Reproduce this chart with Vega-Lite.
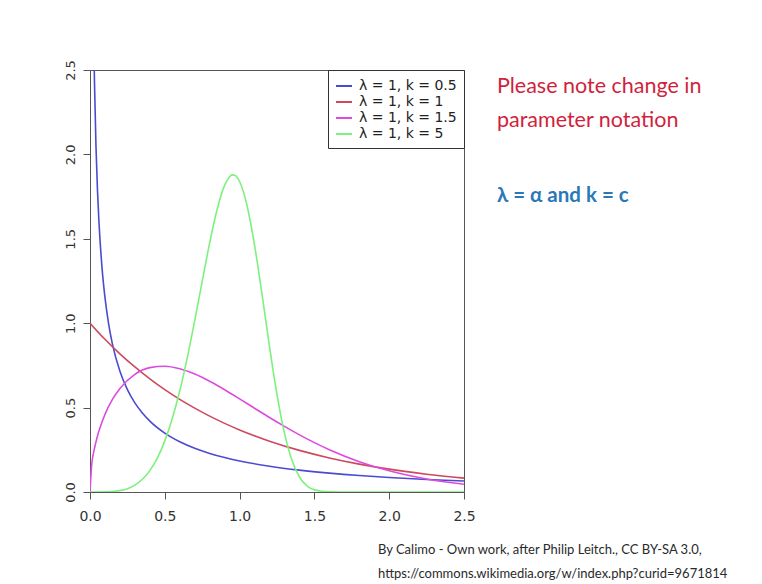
{
  "$schema": "https://vega.github.io/schema/vega-lite/v6.json",
  "width": 374,
  "height": 422,
  "autosize": {"type": "none"},
  "padding": {"left": 90, "top": 70, "right": 298, "bottom": 92},
  "background": "white",
  "config": {
    "view": {"stroke": "#555555", "strokeWidth": 1},
    "axis": {"grid": false, "domain": false, "tickColor": "#555555", "tickSize": 7, "labelColor": "#333333", "labelFont": "DejaVu Sans", "labelFontSize": 13, "labelFlush": false, "labelOverlap": false, "title": null},
    "legend": {"orient": "top-right", "offset": 0, "padding": 7, "strokeColor": "#333333", "fillColor": "white", "labelFont": "DejaVu Sans", "labelFontSize": 14, "labelColor": "#222222", "symbolType": "stroke", "symbolStrokeWidth": 2, "symbolSize": 256, "rowPadding": 0, "labelOffset": 6, "title": null}
  },
  "layer": [
    {
      "data": {"values": [
        {"series": "λ = 1, k = 0.5", "x": 0.01, "y": 4.524},
        {"series": "λ = 1, k = 0.5", "x": 0.02, "y": 3.0693},
        {"series": "λ = 1, k = 0.5", "x": 0.03, "y": 2.4277},
        {"series": "λ = 1, k = 0.5", "x": 0.04, "y": 2.0468},
        {"series": "λ = 1, k = 0.5", "x": 0.05, "y": 1.7881},
        {"series": "λ = 1, k = 0.5", "x": 0.06, "y": 1.5977},
        {"series": "λ = 1, k = 0.5", "x": 0.08, "y": 1.3323},
        {"series": "λ = 1, k = 0.5", "x": 0.1, "y": 1.1525},
        {"series": "λ = 1, k = 0.5", "x": 0.125, "y": 0.9931},
        {"series": "λ = 1, k = 0.5", "x": 0.15, "y": 0.8764},
        {"series": "λ = 1, k = 0.5", "x": 0.2, "y": 0.7149},
        {"series": "λ = 1, k = 0.5", "x": 0.25, "y": 0.6065},
        {"series": "λ = 1, k = 0.5", "x": 0.3, "y": 0.5279},
        {"series": "λ = 1, k = 0.5", "x": 0.35, "y": 0.4677},
        {"series": "λ = 1, k = 0.5", "x": 0.4, "y": 0.42},
        {"series": "λ = 1, k = 0.5", "x": 0.5, "y": 0.3487},
        {"series": "λ = 1, k = 0.5", "x": 0.6, "y": 0.2975},
        {"series": "λ = 1, k = 0.5", "x": 0.7, "y": 0.2589},
        {"series": "λ = 1, k = 0.5", "x": 0.8, "y": 0.2286},
        {"series": "λ = 1, k = 0.5", "x": 0.9, "y": 0.2041},
        {"series": "λ = 1, k = 0.5", "x": 1.0, "y": 0.1839},
        {"series": "λ = 1, k = 0.5", "x": 1.2, "y": 0.1526},
        {"series": "λ = 1, k = 0.5", "x": 1.4, "y": 0.1294},
        {"series": "λ = 1, k = 0.5", "x": 1.6, "y": 0.1116},
        {"series": "λ = 1, k = 0.5", "x": 1.8, "y": 0.0974},
        {"series": "λ = 1, k = 0.5", "x": 2.0, "y": 0.086},
        {"series": "λ = 1, k = 0.5", "x": 2.25, "y": 0.0744},
        {"series": "λ = 1, k = 0.5", "x": 2.5, "y": 0.0651},
        {"series": "λ = 1, k = 1", "x": 0, "y": 1},
        {"series": "λ = 1, k = 1", "x": 0.1, "y": 0.9048},
        {"series": "λ = 1, k = 1", "x": 0.2, "y": 0.8187},
        {"series": "λ = 1, k = 1", "x": 0.3, "y": 0.7408},
        {"series": "λ = 1, k = 1", "x": 0.4, "y": 0.6703},
        {"series": "λ = 1, k = 1", "x": 0.5, "y": 0.6065},
        {"series": "λ = 1, k = 1", "x": 0.6, "y": 0.5488},
        {"series": "λ = 1, k = 1", "x": 0.7, "y": 0.4966},
        {"series": "λ = 1, k = 1", "x": 0.8, "y": 0.4493},
        {"series": "λ = 1, k = 1", "x": 0.9, "y": 0.4066},
        {"series": "λ = 1, k = 1", "x": 1.0, "y": 0.3679},
        {"series": "λ = 1, k = 1", "x": 1.2, "y": 0.3012},
        {"series": "λ = 1, k = 1", "x": 1.4, "y": 0.2466},
        {"series": "λ = 1, k = 1", "x": 1.6, "y": 0.2019},
        {"series": "λ = 1, k = 1", "x": 1.8, "y": 0.1653},
        {"series": "λ = 1, k = 1", "x": 2.0, "y": 0.1353},
        {"series": "λ = 1, k = 1", "x": 2.25, "y": 0.1054},
        {"series": "λ = 1, k = 1", "x": 2.5, "y": 0.0821},
        {"series": "λ = 1, k = 1.5", "x": 0, "y": 0},
        {"series": "λ = 1, k = 1.5", "x": 0.01, "y": 0.1499},
        {"series": "λ = 1, k = 1.5", "x": 0.03, "y": 0.2585},
        {"series": "λ = 1, k = 1.5", "x": 0.05, "y": 0.3317},
        {"series": "λ = 1, k = 1.5", "x": 0.1, "y": 0.4596},
        {"series": "λ = 1, k = 1.5", "x": 0.15, "y": 0.5482},
        {"series": "λ = 1, k = 1.5", "x": 0.2, "y": 0.6134},
        {"series": "λ = 1, k = 1.5", "x": 0.3, "y": 0.6971},
        {"series": "λ = 1, k = 1.5", "x": 0.4, "y": 0.7367},
        {"series": "λ = 1, k = 1.5", "x": 0.5, "y": 0.7448},
        {"series": "λ = 1, k = 1.5", "x": 0.6, "y": 0.73},
        {"series": "λ = 1, k = 1.5", "x": 0.7, "y": 0.6987},
        {"series": "λ = 1, k = 1.5", "x": 0.8, "y": 0.656},
        {"series": "λ = 1, k = 1.5", "x": 0.9, "y": 0.6059},
        {"series": "λ = 1, k = 1.5", "x": 1.0, "y": 0.5518},
        {"series": "λ = 1, k = 1.5", "x": 1.1, "y": 0.4963},
        {"series": "λ = 1, k = 1.5", "x": 1.2, "y": 0.4413},
        {"series": "λ = 1, k = 1.5", "x": 1.3, "y": 0.3885},
        {"series": "λ = 1, k = 1.5", "x": 1.4, "y": 0.3386},
        {"series": "λ = 1, k = 1.5", "x": 1.5, "y": 0.2926},
        {"series": "λ = 1, k = 1.5", "x": 1.6, "y": 0.2507},
        {"series": "λ = 1, k = 1.5", "x": 1.8, "y": 0.1799},
        {"series": "λ = 1, k = 1.5", "x": 2.0, "y": 0.1254},
        {"series": "λ = 1, k = 1.5", "x": 2.25, "y": 0.077},
        {"series": "λ = 1, k = 1.5", "x": 2.5, "y": 0.0455},
        {"series": "λ = 1, k = 5", "x": 0, "y": 0},
        {"series": "λ = 1, k = 5", "x": 0.1, "y": 0.0005},
        {"series": "λ = 1, k = 5", "x": 0.2, "y": 0.008},
        {"series": "λ = 1, k = 5", "x": 0.3, "y": 0.0404},
        {"series": "λ = 1, k = 5", "x": 0.4, "y": 0.1267},
        {"series": "λ = 1, k = 5", "x": 0.45, "y": 0.2003},
        {"series": "λ = 1, k = 5", "x": 0.5, "y": 0.3029},
        {"series": "λ = 1, k = 5", "x": 0.55, "y": 0.4351},
        {"series": "λ = 1, k = 5", "x": 0.6, "y": 0.5995},
        {"series": "λ = 1, k = 5", "x": 0.65, "y": 0.7948},
        {"series": "λ = 1, k = 5", "x": 0.7, "y": 1.0148},
        {"series": "λ = 1, k = 5", "x": 0.75, "y": 1.2478},
        {"series": "λ = 1, k = 5", "x": 0.8, "y": 1.4758},
        {"series": "λ = 1, k = 5", "x": 0.85, "y": 1.6747},
        {"series": "λ = 1, k = 5", "x": 0.9, "y": 1.8176},
        {"series": "λ = 1, k = 5", "x": 0.93, "y": 1.8636},
        {"series": "λ = 1, k = 5", "x": 0.95, "y": 1.8785},
        {"series": "λ = 1, k = 5", "x": 0.97, "y": 1.8755},
        {"series": "λ = 1, k = 5", "x": 1.0, "y": 1.8394},
        {"series": "λ = 1, k = 5", "x": 1.05, "y": 1.696},
        {"series": "λ = 1, k = 5", "x": 1.1, "y": 1.4625},
        {"series": "λ = 1, k = 5", "x": 1.15, "y": 1.1704},
        {"series": "λ = 1, k = 5", "x": 1.2, "y": 0.8611},
        {"series": "λ = 1, k = 5", "x": 1.25, "y": 0.577},
        {"series": "λ = 1, k = 5", "x": 1.3, "y": 0.3485},
        {"series": "λ = 1, k = 5", "x": 1.35, "y": 0.1875},
        {"series": "λ = 1, k = 5", "x": 1.4, "y": 0.0887},
        {"series": "λ = 1, k = 5", "x": 1.45, "y": 0.0364},
        {"series": "λ = 1, k = 5", "x": 1.5, "y": 0.0127},
        {"series": "λ = 1, k = 5", "x": 1.6, "y": 0.0009},
        {"series": "λ = 1, k = 5", "x": 1.7, "y": 0},
        {"series": "λ = 1, k = 5", "x": 2.0, "y": 0},
        {"series": "λ = 1, k = 5", "x": 2.5, "y": 0}
      ]},
      "mark": {"type": "line", "clip": true, "strokeWidth": 1.6, "interpolate": "monotone"},
      "encoding": {
        "x": {"field": "x", "type": "quantitative", "scale": {"domain": [0, 2.5], "nice": false, "zero": false}, "axis": {"values": [0, 0.5, 1, 1.5, 2, 2.5], "format": ".1f", "labelPadding": 10, "labelFontSize": 14}},
        "y": {"field": "y", "type": "quantitative", "scale": {"domain": [0, 2.5], "nice": false, "zero": false}, "axis": {"values": [0, 0.5, 1, 1.5, 2, 2.5], "format": ".1f", "labelAngle": 270, "labelPadding": 6}},
        "color": {"field": "series", "type": "nominal", "scale": {"domain": ["λ = 1, k = 0.5", "λ = 1, k = 1", "λ = 1, k = 1.5", "λ = 1, k = 5"], "range": ["#4b4bd2", "#cc4a5e", "#dc4cdc", "#7ef07e"]}},
        "order": {"field": "x", "type": "quantitative"}
      }
    },
    {
      "data": {"values": [{"label": "Please note change in\nparameter notation"}]},
      "mark": {"type": "text", "clip": false, "align": "left", "baseline": "alphabetic", "font": "Lato", "fontSize": 21.5, "color": "#d11f3e", "lineHeight": 34, "lineBreak": "\n"},
      "encoding": {"x": {"datum": 2.72, "type": "quantitative"}, "y": {"datum": 2.364, "type": "quantitative"}, "text": {"field": "label"}}
    },
    {
      "data": {"values": [{"label": "λ = α and k = c"}]},
      "mark": {"type": "text", "clip": false, "align": "left", "baseline": "alphabetic", "font": "Lato", "fontSize": 20.5, "fontWeight": "bold", "color": "#2a78b8"},
      "encoding": {"x": {"datum": 2.72, "type": "quantitative"}, "y": {"datum": 1.72, "type": "quantitative"}, "text": {"field": "label"}}
    },
    {
      "data": {"values": [{"label": "By Calimo - Own work, after Philip Leitch., CC BY-SA 3.0,\nhttps://commons.wikimedia.org/w/index.php?curid=9671814"}]},
      "mark": {"type": "text", "clip": false, "align": "left", "baseline": "alphabetic", "font": "Lato", "fontSize": 13, "color": "#2a2a2a", "lineHeight": 24, "lineBreak": "\n"},
      "encoding": {"x": {"datum": 1.925, "type": "quantitative"}, "y": {"datum": -0.37, "type": "quantitative"}, "text": {"field": "label"}}
    }
  ]
}
